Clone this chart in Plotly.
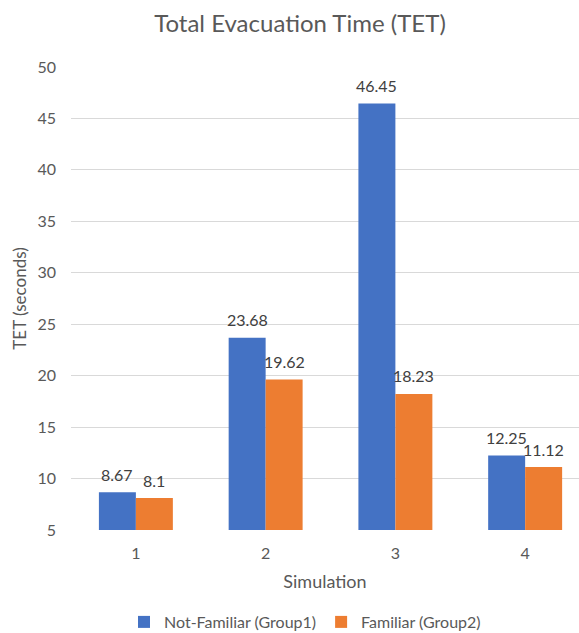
import plotly.graph_objects as go

simulations = [1, 2, 3, 4]
tick_labels = ["1", "2", "3", "4"]
not_familiar = [8.67, 23.68, 46.45, 12.25]
familiar = [8.1, 19.62, 18.23, 11.12]
series_names = ["Not-Familiar (Group1)", "Familiar (Group2)"]
colors = ["#4472C4", "#ED7D31"]

FONT = "Lato, 'Open Sans', sans-serif"
BARGAP = 0.43
half_bar = (1 - BARGAP) / 4  # half width of one bar in axis units (2 bars per group)

fig = go.Figure()
for name, vals, col in zip(series_names, [not_familiar, familiar], colors):
    fig.add_trace(go.Bar(
        x=simulations, y=vals, name=name,
        marker=dict(color=col, line=dict(width=0)),
        cliponaxis=False, hoverinfo="x+y+name",
    ))

# data labels above bars
for sign, vals in zip([-1, 1], [not_familiar, familiar]):
    for s, v in zip(simulations, vals):
        fig.add_annotation(x=s + sign * half_bar, y=v, text=f"{v:g}", showarrow=False,
                           xanchor="center", yanchor="middle", yshift=18,
                           font=dict(size=16, color="#404040", family=FONT))

L, R, T, B = 71, 0, 67, 103
W, H = 579, 633
pw = W - L - R
ph = H - T - B

fig.update_layout(
    width=W, height=H,
    margin=dict(l=L, r=R, t=T, b=B, autoexpand=False),
    paper_bgcolor="white", plot_bgcolor="white",
    barmode="group", bargap=BARGAP, bargroupgap=0,
    font=dict(family=FONT, color="#595959", size=15),
    title=dict(text="Total Evacuation Time (TET)", x=(300 - L) / pw, xref="paper",
               xanchor="center", y=1 - 24 / H, yanchor="middle",
               font=dict(size=24, color="#595959", family=FONT)),
    xaxis=dict(
        range=[0.5, 4.415], tickmode="array", tickvals=simulations, ticktext=tick_labels,
        showgrid=False, zeroline=False, showline=False, ticks="",
        tickfont=dict(size=16, color="#595959"), ticklabelstandoff=12,
        title=dict(text="Simulation", font=dict(size=18, color="#595959"), standoff=14),
    ),
    yaxis=dict(
        range=[5, 50], dtick=5, tick0=5, showgrid=True, gridcolor="#D9D9D9", gridwidth=1,
        zeroline=False, showline=False, ticks="",
        tickfont=dict(size=16, color="#595959"), ticklabelstandoff=14,
        title=dict(text="TET (seconds)", font=dict(size=17, color="#595959"), standoff=6),
    ),
    legend=dict(orientation="h", x=(305 - L) / pw, xanchor="center",
                y=-(622 - (T + ph)) / ph, yanchor="middle",
                font=dict(size=16, color="#595959"), itemwidth=30,
                traceorder="normal"),
)

fig.write_html("out.html", config={"displayModeBar": False},
               post_script="document.body.style.margin='0';")
